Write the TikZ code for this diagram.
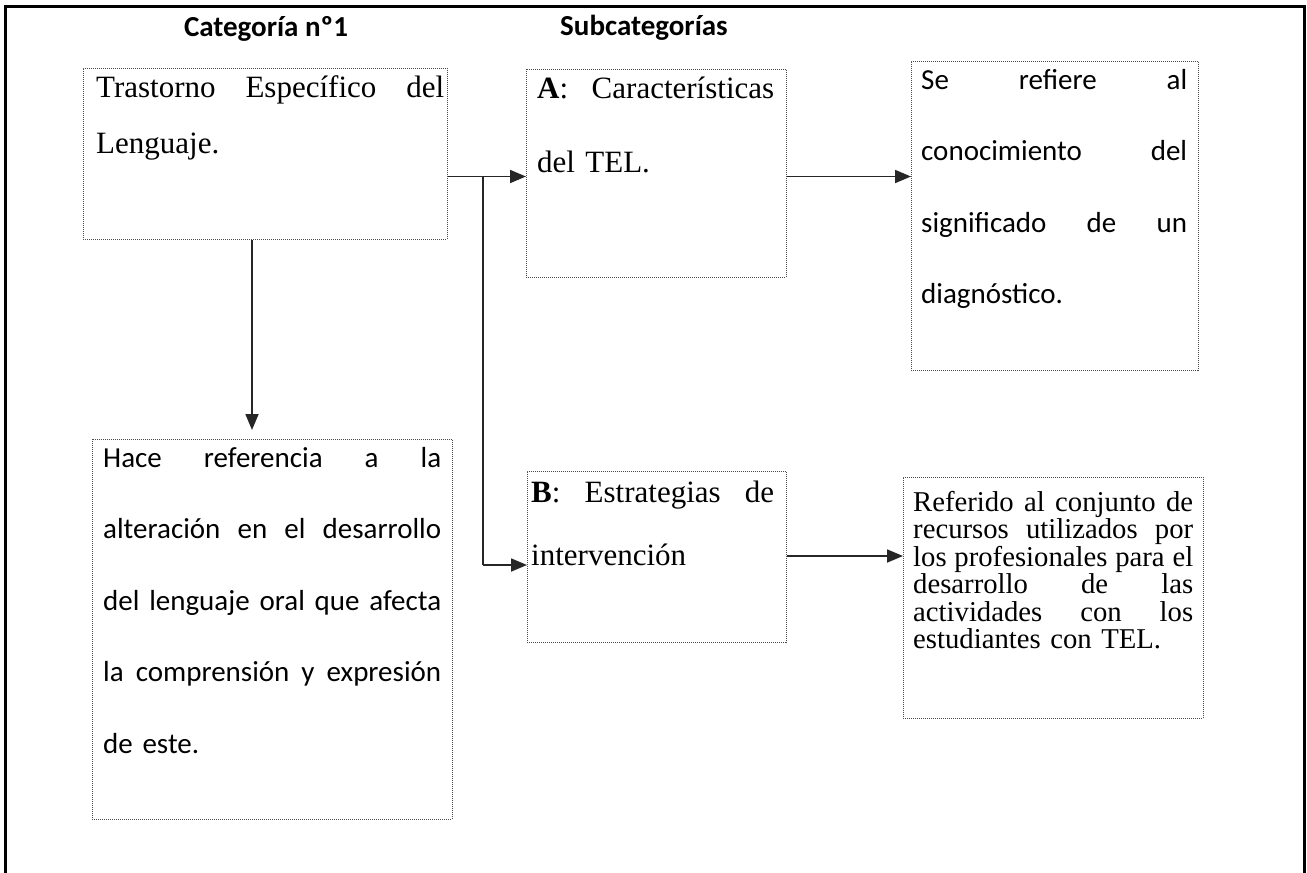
\documentclass[tikz,border=0pt]{standalone}
\usepackage{fontspec}
\setmainfont{Liberation Serif}
\newfontfamily\calib{Carlito}
\usetikzlibrary{arrows.meta}
\newcommand{\jl}[2]{\leavevmode\hbox to #1{#2}}
\tikzset{
  box/.style={draw=black!70, line width=0.9pt, dash pattern=on 1pt off 1pt, rectangle, inner sep=0pt, anchor=north west},
  txt/.style={inner sep=0pt, anchor=base west, align=left, text=black},
  conn/.style={draw=black!85, line width=1.8pt, -{Triangle[length=16pt,width=13pt]}},
  head/.style={inner sep=0pt, anchor=base, font=\calib\bfseries\fontsize{29}{34}\selectfont},
  frame/.style={draw=black, line width=3pt}
}
\begin{document}
\begin{tikzpicture}[x=1pt,y=-1pt]
\useasboundingbox (0,0) rectangle (1307,873);
% outer frame (open at the bottom)
\draw[frame] (5,890) -- (5,6) -- (1304,6) -- (1304,890);

% headers
\node[head] (h1) at (266,36) {Categoría nº1};
\node[head] (h2) at (644,35) {Subcategorías};

% boxes
\node[box, minimum width=364pt, minimum height=171pt] (cat) at (83,68) {};
\node[box, minimum width=360pt, minimum height=380pt] (hace) at (92,439) {};
\node[box, minimum width=260pt, minimum height=208pt] (subA) at (526,69) {};
\node[box, minimum width=259pt, minimum height=171pt] (subB) at (527,471) {};
\node[box, minimum width=287pt, minimum height=309pt] (def1) at (911,61) {};
\node[box, minimum width=300pt, minimum height=241pt] (def2) at (903,477) {};

% texts
\node[txt, text width=348pt, font=\fontsize{31}{56}\selectfont] (catT) at (96,97)
  {\jl{348pt}{Trastorno\hfill Específico\hfill del}\\Lenguaje.};
\node[txt, text width=338pt, font=\calib\fontsize{29}{71.5}\selectfont] (haceT) at (103,467)
  {\jl{338pt}{Hace\hfill referencia\hfill a\hfill la}\\
   \jl{338pt}{alteración\hfill en\hfill el\hfill desarrollo}\\
   \jl{338pt}{del\hfill lenguaje\hfill oral\hfill que\hfill afecta}\\
   \jl{338pt}{la\hfill comprensión\hfill y\hfill expresión}\\
   de este.};
\node[txt, text width=237pt, font=\fontsize{31}{74}\selectfont] (subAT) at (537,98)
  {\jl{237pt}{\textbf{A}:\hfill Características}\\del TEL.};
\node[txt, text width=243pt, font=\fontsize{31}{63}\selectfont] (subBT) at (531,502)
  {\jl{243pt}{\textbf{B}:\hfill Estrategias\hfill de}\\intervención};
\node[txt, text width=266pt, font=\calib\fontsize{29}{71.5}\selectfont] (def1T) at (921,89)
  {\jl{266pt}{Se\hfill refiere\hfill al}\\
   \jl{266pt}{conocimiento\hfill del}\\
   \jl{266pt}{significado\hfill de\hfill un}\\
   diagnóstico.};
\node[txt, text width=280pt, font=\fontsize{28.7}{27.5}\selectfont] (def2T) at (913,511)
  {\jl{280pt}{Referido\hfill al\hfill conjunto\hfill de}\\
   \jl{280pt}{recursos\hfill utilizados\hfill por}\\
   \jl{280pt}{los\hfill profesionales\hfill para\hfill el}\\
   \jl{280pt}{desarrollo\hfill de\hfill las}\\
   \jl{280pt}{actividades\hfill con\hfill los}\\
   estudiantes con TEL.};

% connector levels
\coordinate (lvA) at (0,176.5);
\coordinate (lvB) at (0,565);
\coordinate (lvB2) at (0,556);
\coordinate (vx) at (252,0);
\coordinate (br) at (483,176.5);
\coordinate (vtip) at (252,430);

% connectors
\draw[conn] (cat.east |- lvA) -- (subA.west |- lvA);
\draw[conn, -] (br) -- (br |- lvB);
\draw[conn] (br |- lvB) -- (subB.west |- lvB);
\draw[conn] (subA.east |- lvA) -- (def1.west |- lvA);
\draw[conn] (subB.east |- lvB2) -- (def2.west |- lvB2);
\draw[conn] (cat.south -| vx) -- (vtip);
\end{tikzpicture}
\end{document}
